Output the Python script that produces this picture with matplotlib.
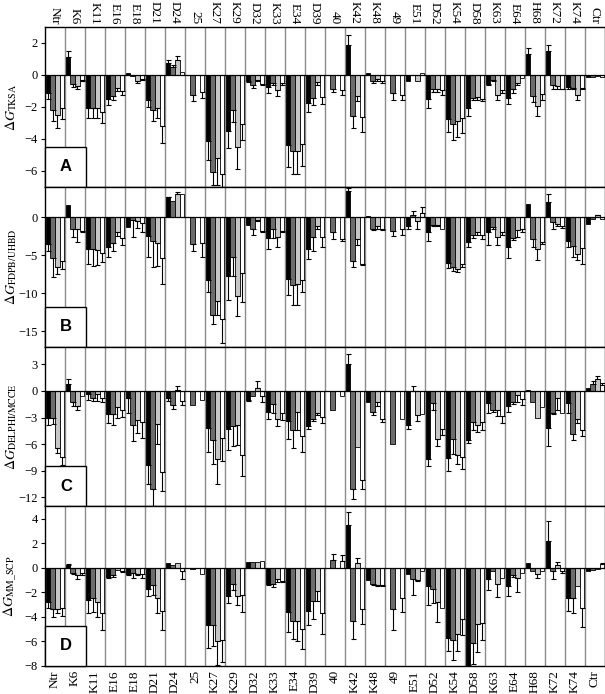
"""Four-panel grouped bar chart of per-residue dG from four pKa methods."""
import numpy as np
import matplotlib
matplotlib.use("Agg")
import matplotlib.pyplot as plt
from matplotlib.patches import Rectangle

plt.rcParams["font.family"] = ["Liberation Serif", "DejaVu Serif"]
plt.rcParams["mathtext.fontset"] = "stix"

residues = ["Ntr", "K6", "K11", "E16", "E18", "D21", "D24", "25", "K27", "K29",
            "D32", "K33", "E34", "D39", "40", "K42", "K48", "49", "E51", "D52",
            "K54", "D58", "K63", "E64", "H68", "K72", "K74", "Ctr"]

# one row per residue: [black, dark gray, light gray, white]
tksa_vals = [
    [-1.15, -2.2, -2.5, -2.1], [1.15, -0.55, -0.7, -0.3], [-2.05, -2.05, -2.05, -2.3],
    [-1.5, -1.3, -0.8, -1.0], [0.1, -0.05, -0.4, -0.25], [-1.55, -2.2, -2.1, -3.2],
    [0.73, 0.52, 0.94, 0.2], [0, -1.25, 0, -1.05], [-4.15, -6.05, -5.2, -6.2],
    [-3.5, -2.2, -4.5, -3.05], [-0.4, -0.6, -0.3, -0.55], [-0.75, -0.5, -0.95, -0.5],
    [-4.4, -4.75, -4.75, -4.35], [-1.75, -1.45, -0.45, -1.4], [0, -0.85, 0, -0.95],
    [1.9, -2.55, -1.3, -2.65], [0.1, -0.35, -0.25, -0.4], [0, -1.15, 0, -1.25],
    [-0.4, 0, -0.35, 0.15], [-1.5, -0.85, -0.85, -0.95], [-2.75, -3.1, -2.9, -2.7],
    [-2.1, -1.45, -1.4, -1.5], [-0.55, -0.3, -1.25, -0.95], [-1.45, -0.9, -0.5, -0.2],
    [1.3, -1.3, -1.95, -1.2], [1.5, -0.6, -0.7, -0.85], [-0.75, -0.8, -1.25, -0.8],
    [-0.1, -0.1, -0.05, -0.15]]
tksa_errs = [
    [0.35, 0.7, 0.8, 0.65], [0.35, 0.2, 0.15, 0.05], [0.65, 0.65, 0.65, 0.7],
    [0.4, 0.3, 0.2, 0.25], [0, 0, 0.1, 0.05], [0.45, 0.7, 0.6, 1.05],
    [0.2, 0.1, 0.25, 0], [0, 0.4, 0, 0.4], [1.2, 0.85, 1.7, 0.8],
    [1.05, 0.75, 1.4, 1.0], [0.05, 0.2, 0.05, 0.1], [0.4, 0.1, 0.35, 0.1],
    [1.35, 1.45, 1.45, 1.35], [0.55, 0.45, 0.2, 0.45], [0, 0.25, 0, 0.3],
    [0.6, 0.75, 0.35, 0.95], [0, 0.15, 0.1, 0.1], [0, 0.45, 0, 0.35],
    [0, 0, 0, 0], [0.55, 0.25, 0.2, 0.3], [0.85, 1.0, 1.0, 0.95],
    [0.5, 0.15, 0.15, 0.15], [0.1, 0.05, 0.35, 0.2], [0.4, 0.25, 0.15, 0],
    [0.4, 0.4, 0.65, 0.35], [0.4, 0.3, 0.15, 0.05], [0.15, 0.1, 0.35, 0.1],
    [0, 0, 0, 0]]

fdpb_vals = [
    [-3.5, -5.4, -6.5, -5.8], [1.6, -1.6, -1.6, -1.8], [-4.2, -4.2, -4.3, -4.7],
    [-3.9, -3.4, -2.0, -2.8], [-1.3, -0.4, -0.5, -0.8], [-2.5, -3.1, -3.4, -5.4],
    [2.6, 2.1, 3.1, 3.0], [0, -3.5, 0, -3.4], [-8.3, -12.9, -11.0, -13.4],
    [-7.7, -5.3, -10.3, -7.3], [-1.0, -1.5, -0.4, -1.8], [-2.7, -1.5, -2.6, -1.8],
    [-8.1, -8.9, -8.8, -8.2], [-4.2, -2.6, -1.2, -2.6], [0, -1.9, 0, -2.9],
    [3.4, -5.8, -2.9, -6.2], [0.2, -1.6, -1.1, -1.6], [0, -1.8, 0, -1.6],
    [-1.2, 0.3, -0.5, 0.6], [-2.0, -1.0, -1.0, -1.5], [-6.0, -6.6, -6.8, -6.2],
    [-3.2, -2.3, -2.0, -2.4], [-1.9, -1.3, -2.6, -1.9], [-3.9, -2.7, -1.7, -1.5],
    [1.7, -2.9, -4.2, -3.3], [2.0, -0.6, -0.9, -1.2], [-3.1, -3.8, -4.9, -4.1],
    [-0.9, -0.3, 0.3, -0.2]]
fdpb_errs = [
    [1.0, 2.5, 1.0, 1.0], [0, 1.0, 1.6, 0.1], [1.9, 2.2, 2.0, 1.2],
    [1.3, 1.0, 0.5, 0.8], [0, 2.2, 0.9, 1.1], [2.8, 3.5, 3.0, 3.4],
    [0.1, 0, 0.2, 0], [0, 1.0, 0, 1.9], [1.6, 1.1, 1.8, 3.1],
    [3.2, 2.4, 2.7, 3.9], [0, 0.8, 0.1, 0.2], [1.5, 1.3, 1.3, 0.2],
    [2.1, 2.7, 2.7, 1.6], [1.3, 1.9, 0.3, 1.3], [0, 1.0, 0, 0.2],
    [0.5, 0.7, 0.7, 0.1], [0, 0.1, 0.4, 0.1], [0, 0.7, 0, 0.7],
    [0.3, 0.5, 1.0, 0.8], [1.1, 0.1, 0.1, 0], [0.7, 0.5, 0.4, 0.4],
    [0.7, 0.5, 0.3, 0.5], [1.8, 0.3, 1.0, 0.4], [1.5, 0.3, 0.9, 0.4],
    [0, 1.0, 1.4, 0.2], [1.0, 1.0, 0.3, 0.2], [0.8, 1.4, 0.7, 2.0],
    [0, 0, 0.05, 0]]

delphi_vals = [
    [-3.0, -3.0, -6.4, -7.5], [0.8, -1.2, -1.7, -0.6], [-0.4, -0.8, -0.4, -0.8],
    [-2.6, -2.6, -1.8, -2.1], [-0.8, -3.9, -3.3, -3.5], [-8.3, -11.0, -3.7, -9.1],
    [-0.8, -1.6, 0.1, -1.1], [0, -1.6, 0, -1.0], [-4.2, -5.5, -7.7, -5.3],
    [-4.3, -4.0, -3.8, -7.2], [-1.0, -0.6, 0.3, -0.6], [-2.4, -1.5, -3.2, -2.5],
    [-3.4, -4.4, -2.4, -5.1], [-4.0, -3.2, -2.5, -2.9], [0, -2.1, 0, -0.6],
    [3.0, -11.1, -6.3, -10.0], [-1.2, -2.4, -1.3, -3.2], [0, -6.0, 0, -3.2],
    [-3.8, 0, -2.7, -2.6], [-7.7, -1.4, -5.4, -4.3], [-7.6, -5.4, -7.2, -7.5],
    [-5.5, -3.5, -3.8, -3.5], [-1.4, -2.1, -2.1, -2.8], [-1.7, -1.2, -0.5, -0.9],
    [0.1, -1.2, -3.1, -1.8], [-4.2, -2.5, -0.8, -2.5], [-1.4, -4.9, -3.2, -4.4],
    [0.3, 0.8, 1.3, 0.7]]
delphi_errs = [
    [0.9, 0.7, 0.6, 0.8], [0.5, 0.5, 0.5, 0], [0.6, 0.3, 0.7, 0.5],
    [1.0, 1.2, 1.3, 0.8], [1.7, 1.7, 1.5, 1.8], [2.2, 2.0, 2.3, 2.2],
    [0.3, 0.4, 0.4, 0.5], [0, 0, 0, 0], [2.7, 2.7, 2.8, 2.6],
    [2.4, 2.2, 2.3, 2.4], [0.1, 0, 0.8, 0.6], [0.8, 1.0, 0.8, 0.8],
    [2.0, 2.0, 2.0, 1.8], [0.3, 0.2, 0.2, 0.7], [0, 0, 0, 0],
    [1.1, 1.1, 0, 1.1], [0, 0.3, 0.4, 0.3], [0, 0, 0, 0],
    [0.5, 0.6, 0.7, 0], [0.8, 0.7, 0.8, 0.7], [1.4, 1.7, 1.0, 1.3],
    [0.4, 0.9, 0.8, 0.9], [1.1, 0.3, 0.7, 0.8], [0.7, 0.3, 0.8, 0.7],
    [0, 0, 0, 0], [2.0, 0.1, 1.4, 0], [1.1, 0.6, 0.4, 0.7],
    [0, 0.3, 0.4, 0.2]]

mmscp_vals = [
    [-2.8, -3.4, -3.4, -3.3], [0.2, -0.4, -0.6, -0.45], [-2.6, -2.5, -2.8, -3.7],
    [-0.75, -0.6, -0.2, -0.3], [-0.5, -0.4, -0.5, -0.5], [-1.7, -1.4, -2.5, -3.5],
    [0.4, 0.2, 0.4, -0.3], [0, -0.1, 0, -0.5], [-4.7, -4.7, -6.0, -5.9],
    [-2.3, -1.3, -2.3, -2.2], [0.45, 0.45, 0.45, 0.55], [-1.3, -1.3, -0.9, -1.1],
    [-3.6, -4.3, -4.3, -4.95], [-3.5, -2.7, -1.9, -3.7], [0, 0.6, 0, 0.55],
    [3.5, -4.3, 0.4, -3.4], [-1.0, -1.3, -1.4, -1.4], [0, -3.4, 0, -2.5],
    [-0.5, -0.95, -1.0, -0.3], [-1.5, -1.7, -2.8, -3.3], [-5.7, -5.9, -5.4, -4.2],
    [-7.9, -6.1, -4.6, -4.5], [-0.9, -0.3, -1.3, -0.8], [-1.5, -0.6, -0.8, -0.4],
    [0.35, -0.3, -0.5, -0.25], [2.2, -0.25, 0.2, -0.3], [-2.5, -2.5, -1.5, -3.3],
    [-0.3, -0.15, -0.1, 0.3]]
mmscp_errs = [
    [0.5, 0.6, 0.3, 0.6], [0.1, 0.15, 0.35, 0.15], [1.1, 1.1, 1.2, 1.4],
    [0.1, 0.15, 0, 0.05], [0.1, 0.4, 0.1, 0.35], [0.6, 0.8, 1.2, 1.6],
    [0, 0, 0, 0.65], [0, 0, 0, 0], [1.8, 1.7, 1.9, 1.8],
    [0.6, 0.5, 0.7, 1.4], [0, 0, 0, 0], [0.1, 0.3, 0.3, 0.1],
    [1.6, 1.5, 1.7, 1.7], [1.2, 1.5, 0.8, 1.7], [0, 0.5, 0, 0.45],
    [1.0, 1.5, 0.35, 1.2], [0, 0.1, 0.1, 0.1], [0, 1.7, 0, 1.1],
    [0, 1.25, 0.1, 0], [1.5, 1.2, 1.6, 0], [1.1, 1.6, 1.4, 1.3],
    [0.1, 1.7, 2.3, 1.4], [0.9, 0, 1.1, 0], [0.8, 0.15, 1.2, 0],
    [0, 0, 0.3, 0], [1.6, 0.65, 0.3, 0.1], [1.0, 1.2, 0, 1.5],
    [0, 0, 0, 0.05]]

bar_colors = ["black", "#6c6c6c", "#c6c6c6", "white"]

panels = [
    (tksa_vals, tksa_errs, (-7, 3), [-6, -4, -2, 0, 2], r"$\Delta G_{\mathrm{TKSA}}$", "A"),
    (fdpb_vals, fdpb_errs, (-17, 4), [-15, -10, -5, 0], r"$\Delta G_{\mathrm{FDPB/UHBD}}$", "B"),
    (delphi_vals, delphi_errs, (-13, 5), [-12, -9, -6, -3, 0, 3], r"$\Delta G_{\mathrm{DELPHI/MCCE}}$", "C"),
    (mmscp_vals, mmscp_errs, (-8, 5), [-8, -6, -4, -2, 0, 2, 4], r"$\Delta G_{\mathrm{MM\_SCP}}$", "D"),
]

W, H = 605, 694
fig = plt.figure(figsize=(W / 100, H / 100), dpi=100)
top_px, bot_px, left_px = 27, 666, 45
ph = (bot_px - top_px) / 4

n = len(residues)
x = np.arange(n)
width = 0.235
offsets = [0.03 + width * (k + 0.5) for k in range(4)]

for p, (vals, errs, ylim, yticks, ylabel, letter) in enumerate(panels):
    y0 = 1 - (top_px + (p + 1) * ph) / H
    ax = fig.add_axes([left_px / W, y0, 1 - left_px / W, ph / H])
    vals = np.array(vals)
    errs = np.array(errs)

    for i in range(1, n):
        ax.axvline(i, color="#8c8c8c", lw=1.0, zorder=0)

    for k in range(4):
        v = vals[:, k]
        e = errs[:, k]
        xc = x + offsets[k]
        ax.bar(xc, v, width=width, color=bar_colors[k], edgecolor="black",
               linewidth=0.6, zorder=2)
        m = e > 0
        lower = np.where(v < 0, e, 0)[m]
        upper = np.where(v >= 0, e, 0)[m]
        ax.errorbar(xc[m], v[m], yerr=[lower, upper], fmt="none", ecolor="black",
                    elinewidth=0.8, capsize=1.8, capthick=0.8, zorder=3)

    ax.axhline(0, color="black", lw=0.9, zorder=4)
    ax.set_xlim(0, n)
    ax.set_ylim(*ylim)
    ax.set_yticks(yticks)
    ax.tick_params(axis="y", direction="out", length=3, width=0.8, labelsize=9,
                   pad=2)
    ax.set_ylabel(ylabel, fontsize=10)
    ax.yaxis.set_label_coords(-0.047, 0.5)
    for s in ax.spines.values():
        s.set_linewidth(1.0)

    ax.set_xticks(x + 0.5)
    if p == 0:
        ax.set_xticklabels(residues, rotation=270, fontsize=9.5)
        ax.tick_params(axis="x", bottom=False, labelbottom=False, top=False,
                       labeltop=True, length=0, pad=2)
    elif p == 3:
        ax.set_xticklabels(residues, rotation=90, fontsize=9.5)
        ax.tick_params(axis="x", length=0, pad=3)
    else:
        ax.tick_params(axis="x", length=0, labelbottom=False)

    # letter box in the lower left corner
    box_h = 40 / ph
    ax.add_patch(Rectangle((0, 0), 2.05, box_h, transform=ax.get_xaxis_transform(),
                           facecolor="white", edgecolor="black", lw=1.0, zorder=5,
                           clip_on=False))
    ax.text(1.05, box_h / 2, letter, transform=ax.get_xaxis_transform(),
            ha="center", va="center", fontsize=12, fontweight="bold",
            family="Liberation Sans", zorder=6)

fig.savefig("out.png", dpi=100)
